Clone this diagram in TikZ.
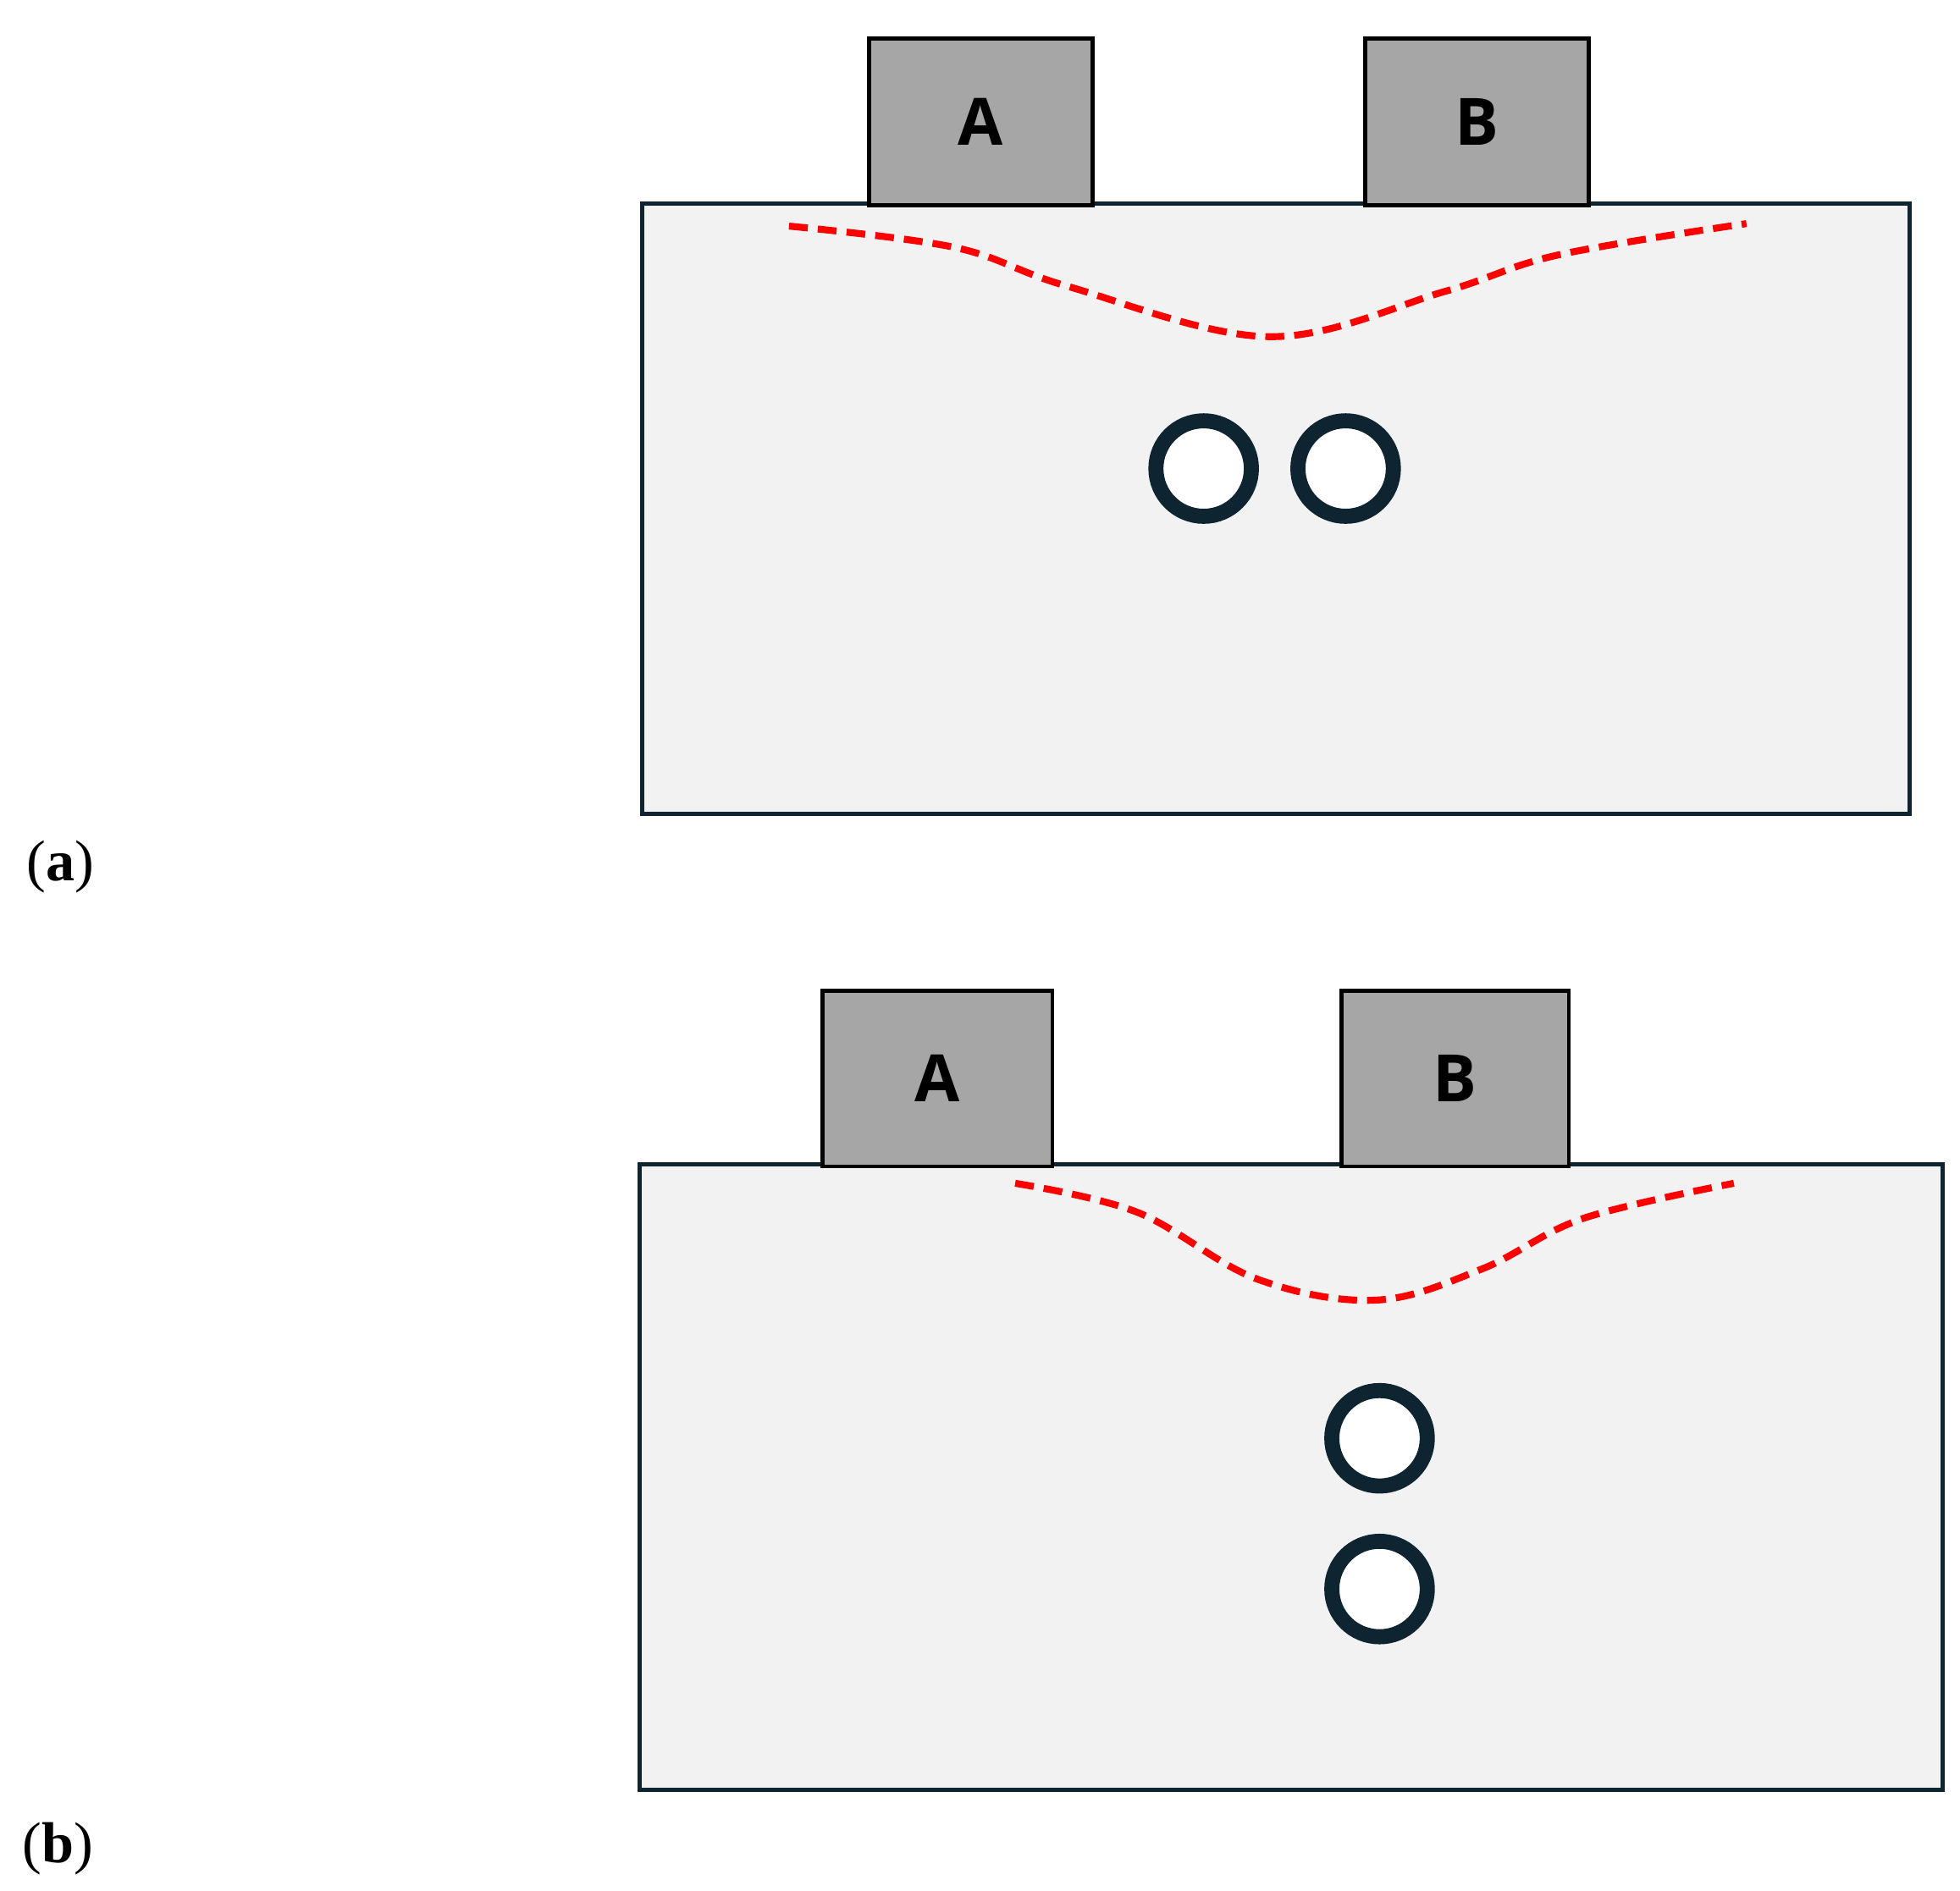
\documentclass[tikz,border=0pt]{standalone}
\usepackage{fontspec}
\setmainfont{Liberation Serif}
\newfontfamily\boxfont{Open Sans}
\definecolor{navy}{HTML}{0E2431}
\begin{document}
\begin{tikzpicture}[x=1pt,y=-1pt,
  plate/.style={draw=navy,line width=3.2pt,fill=black!5},
  elec/.style={draw=black,line width=3.2pt,fill=black!35,font=\boxfont\bfseries\fontsize{52}{54}\selectfont},
  hole/.style={circle,draw=navy,line width=12pt,fill=white,minimum size=76pt,inner sep=0pt},
  crack/.style={red,line width=5.5pt,dash pattern=on 15pt off 8pt},
  lab/.style={font=\fontsize{46}{48}\selectfont}]
\useasboundingbox (0,0) rectangle (1560,1505);
% (a)
\draw[plate] (511,162) rectangle (1520,648);
\node[elec,minimum width=178pt,minimum height=133pt,anchor=north west] (Aa) at (690,29) {A};
\node[elec,minimum width=178pt,minimum height=133pt,anchor=north west] (Ba) at (1085,29) {B};
\draw[crack] plot[smooth,tension=0.6] coordinates {(628,180) (760,197) (850,228) (1010,268) (1150,232) (1240,203) (1390,178)};
\node[hole] (h1) at (958,373) {};
\node[hole] (h2) at (1071,373) {};
\node[lab] (la) at (48,690) {(\textbf{a})};
% (b)
\draw[plate] (509,927) rectangle (1546,1425);
\node[elec,minimum width=183pt,minimum height=140pt,anchor=north west] (Ab) at (653,787) {A};
\node[elec,minimum width=181pt,minimum height=140pt,anchor=north west] (Bb) at (1066,787) {B};
\draw[crack] plot[smooth,tension=0.6] coordinates {(808,942) (905,965) (1000,1018) (1095,1035) (1180,1010) (1260,970) (1380,942)};
\node[hole] (h3) at (1098,1145) {};
\node[hole] (h4) at (1098,1265) {};
\node[lab] (lb) at (46,1472) {(\textbf{b})};
\end{tikzpicture}
\end{document}
